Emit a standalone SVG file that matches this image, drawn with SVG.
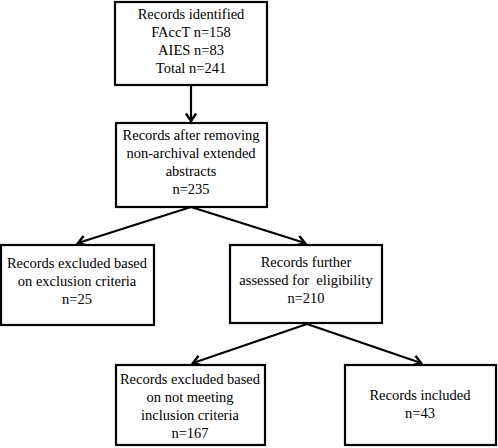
<svg xmlns="http://www.w3.org/2000/svg" width="498" height="448" viewBox="0 0 498 448">
<style>
  .box { fill: #ffffff; stroke: #000000; stroke-width: 2.2; }
  .t { font-family: 'Liberation Serif', 'DejaVu Serif', serif; font-size: 14.5px; fill: #000000; text-anchor: middle; white-space: pre; }
  .c { stroke: #000000; stroke-width: 2.2; fill: none; }
</style>
<defs>
  <marker id="ah" markerUnits="userSpaceOnUse" markerWidth="14" markerHeight="14" viewBox="-10 -7 12 14" refX="0" refY="0" orient="auto">
    <path d="M -7.5 -5 L 0 0 L -7.5 5" fill="none" stroke="#000000" stroke-width="2.4"/>
  </marker>
</defs>
<rect width="498" height="448" fill="#ffffff"/>
<g id="connectors">
  <line class="c" x1="191" y1="86" x2="191" y2="121" marker-end="url(#ah)"/>
  <line class="c" x1="191" y1="207" x2="78" y2="243" marker-end="url(#ah)"/>
  <line class="c" x1="191" y1="207" x2="305" y2="243" marker-end="url(#ah)"/>
  <line class="c" x1="307" y1="324" x2="193" y2="363" marker-end="url(#ah)"/>
  <line class="c" x1="307" y1="324" x2="421" y2="363" marker-end="url(#ah)"/>
</g>
<g id="node-identified">
  <rect class="box" x="115" y="2" width="152" height="83"/>
  <text class="t" x="191" y="18.5" font-family="Liberation Serif, serif">Records identified</text>
  <text class="t" x="191" y="36.5" font-family="Liberation Serif, serif">FAccT n=158</text>
  <text class="t" x="191" y="54.5" font-family="Liberation Serif, serif">AIES n=83</text>
  <text class="t" x="191" y="72.5" font-family="Liberation Serif, serif">Total n=241</text>
</g>
<g id="node-after-removing">
  <rect class="box" x="116" y="123" width="151" height="84"/>
  <text class="t" x="191" y="139.5">Records after removing</text>
  <text class="t" x="191" y="157.5">non-archival extended</text>
  <text class="t" x="191" y="175.5">abstracts</text>
  <text class="t" x="191" y="193.5">n=235</text>
</g>
<g id="node-excluded-criteria">
  <rect class="box" x="1" y="245" width="153" height="80"/>
  <text class="t" x="77" y="268">Records excluded based</text>
  <text class="t" x="77" y="286">on exclusion criteria</text>
  <text class="t" x="77" y="304">n=25</text>
</g>
<g id="node-further-assessed">
  <rect class="box" x="230" y="245" width="152" height="78"/>
  <text class="t" x="306" y="267">Records further</text>
  <text class="t" x="306" y="285" xml:space="preserve">assessed for  eligibility</text>
  <text class="t" x="306" y="303">n=210</text>
</g>
<g id="node-excluded-inclusion">
  <rect class="box" x="116" y="365" width="149" height="80"/>
  <text class="t" x="190" y="384">Records excluded based</text>
  <text class="t" x="190" y="402">on not meeting</text>
  <text class="t" x="190" y="420">inclusion criteria</text>
  <text class="t" x="190" y="437.5">n=167</text>
</g>
<g id="node-included">
  <rect class="box" x="345" y="365" width="151" height="80"/>
  <text class="t" x="420" y="400">Records included</text>
  <text class="t" x="420" y="418">n=43</text>
</g>
</svg>
